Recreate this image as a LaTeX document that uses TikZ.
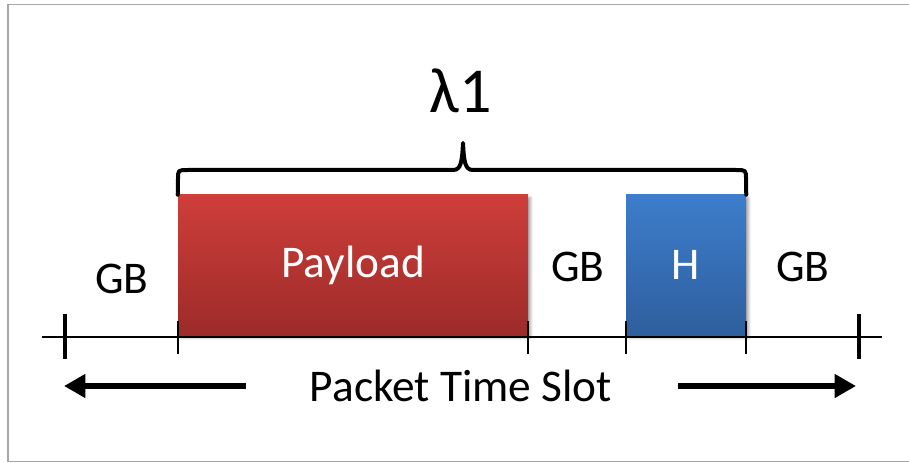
\documentclass[tikz,border=0pt]{standalone}
\usepackage{fontspec}
\setmainfont{Carlito}
\usetikzlibrary{arrows.meta,shadows.blur,positioning}
\definecolor{payTop}{HTML}{CE3E3A}
\definecolor{payBot}{HTML}{9C2B29}
\definecolor{hdrTop}{HTML}{3D7DCB}
\definecolor{hdrBot}{HTML}{2E5F9E}
\definecolor{frameGray}{HTML}{A6A6A6}
\tikzset{
  slot/.style={inner sep=0pt, text=white, font=\fontsize{34}{40}\selectfont,
    minimum height=105pt,
    blur shadow={shadow xshift=2pt,shadow yshift=-2pt,shadow blur steps=6,shadow opacity=35}},
  lbl/.style={inner sep=0pt, font=\fontsize{34}{40}\selectfont},
  axisline/.style={line width=2.2pt},
  bigtick/.style={line width=3pt},
  smalltick/.style={line width=1.8pt},
  bracket/.style={line width=3pt, line cap=round, line join=round},
  bigarrow/.style={line width=4.5pt, -{Triangle[length=16pt,width=17pt]}},
}
\begin{document}
\begin{tikzpicture}[x=0.75pt,y=-0.75pt]
\useasboundingbox (0,0) rectangle (909,463);
\draw[frameGray, line width=1.4pt] (909,4.5) -- (8,4.5) -- (8,461.5) -- (909,461.5);

\node[slot, shade, top color=payTop, bottom color=payBot, minimum width=262.5pt] (payload) at (353,265) {Payload};
\node[slot, shade, top color=hdrTop, bottom color=hdrBot, minimum width=90pt] (head) at (686,265) {H};

\node[lbl] (gbA) at (122,279) {GB};
\node[lbl] (gbB) at (578,267) {GB};
\node[lbl] (gbC) at (803,267) {GB};

\coordinate (axL) at (42,337);
\coordinate (axR) at (882,337);
\draw[axisline] (axL) -- (axR);
\foreach \x in {65,859}
  \draw[bigtick] (\x,314) -- (\x,359);
\foreach \x in {178,528,626,746}
  \draw[smalltick] (\x,321) -- (\x,354);

\coordinate (bTip) at (463,143);
\draw[bracket] (payload.north west) -- (178,179) .. controls (178,170) .. (188,170)
  -- (453,170) .. controls (461,170) and (462,162) .. (bTip)
  .. controls (464,162) and (465,170) .. (473,170)
  -- (736,170) .. controls (746,170) .. (746,179) -- (head.north east);
\node[inner sep=0pt, font=\fontsize{48}{56}\selectfont] (lam) at (461,91) {λ1};

\node[lbl] (pts) at (461,386) {Packet Time Slot};
\coordinate (lTail) at (246,386);
\coordinate (lTip) at (64,386);
\coordinate (rTail) at (678,386);
\coordinate (rTip) at (856,386);
\draw[bigarrow] (lTail) -- (lTip);
\draw[bigarrow] (rTail) -- (rTip);
\end{tikzpicture}
\end{document}
